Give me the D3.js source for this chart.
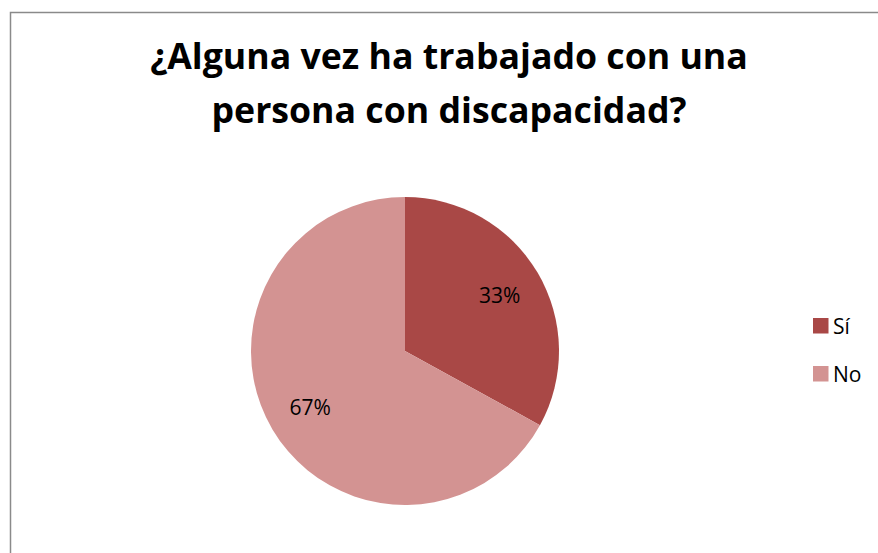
<!DOCTYPE html>
<html>
<head>
<meta charset="utf-8">
<script src="https://cdn.jsdelivr.net/npm/d3@7"></script>
<style>
  html, body { margin: 0; padding: 0; background: #fff; }
  svg { display: block; font-family: "Open Sans", Lato, sans-serif; }
</style>
</head>
<body>
<svg width="878" height="553"></svg>
<script>
const titleLines = ["¿Alguna vez ha trabajado con una", "persona con discapacidad?"];
const categories = ["Sí", "No"];
const values = [33, 67];
const colors = ["#a94846", "#d39392"];

const svg = d3.select("svg");

// chart frame (runs off the right / bottom edge like the original)
svg.append("rect")
  .attr("x", 10.5).attr("y", 12.5)
  .attr("width", 900).attr("height", 600)
  .attr("fill", "#fff")
  .attr("stroke", "#8a8a8a")
  .attr("stroke-width", 1.5);

// title
const title = svg.append("text")
  .attr("text-anchor", "middle")
  .attr("font-weight", "bold")
  .attr("font-size", 32)
  .attr("fill", "#000");
const tspans = title.selectAll("tspan")
  .data(titleLines)
  .enter()
  .append("tspan")
  .attr("x", 449)
  .attr("y", (d, i) => 69 + i * 54)
  .text(d => d);

// fit first line to the width of the original (~598px)
const w0 = tspans.node().getComputedTextLength();
title.attr("font-size", 32 * 598 / w0);

// pie
const cx = 405, cy = 351, r = 154;
const color = d3.scaleOrdinal().domain(categories).range(colors);
const pie = d3.pie().sort(null).value(d => d.value);
const data = categories.map((c, i) => ({ name: c, value: values[i] }));
const arcs = pie(data);
const arc = d3.arc().innerRadius(0).outerRadius(r);
const labelArc = d3.arc().innerRadius(r * 0.715).outerRadius(r * 0.715);
const total = d3.sum(values);

const g = svg.append("g").attr("transform", `translate(${cx},${cy})`);
g.selectAll("path")
  .data(arcs)
  .enter()
  .append("path")
  .attr("d", arc)
  .attr("fill", d => color(d.data.name));

g.selectAll(".lbl")
  .data(arcs)
  .enter()
  .append("text")
  .attr("class", "lbl")
  .attr("transform", d => `translate(${labelArc.centroid(d)})`)
  .attr("text-anchor", "middle")
  .attr("dy", "0.36em")
  .attr("font-size", 21)
  .attr("fill", "#000")
  .text(d => Math.round(d.data.value / total * 100) + "%");

// legend
const legend = svg.append("g").attr("transform", "translate(813,318)");
const item = legend.selectAll("g")
  .data(categories)
  .enter()
  .append("g")
  .attr("transform", (d, i) => `translate(0,${i * 48})`);
item.append("rect")
  .attr("width", 15.5).attr("height", 15.5)
  .attr("fill", d => color(d));
item.append("text")
  .attr("x", 20)
  .attr("y", 15.5)
  .attr("font-size", 21)
  .attr("fill", "#000")
  .text(d => d);
</script>
</body>
</html>
